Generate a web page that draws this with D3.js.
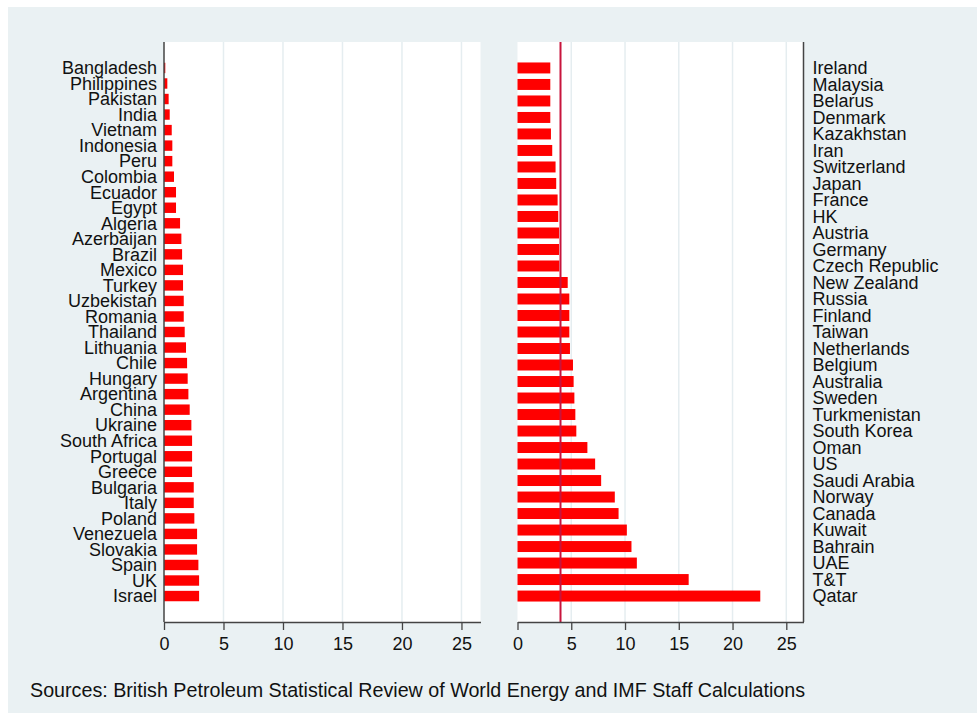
<!DOCTYPE html>
<html><head><meta charset="utf-8">
<script src="https://cdn.jsdelivr.net/npm/d3@7"></script>
<style>body{margin:0;background:#fff} svg{display:block}</style>
</head><body><svg id="c" width="977" height="713"></svg>
<script>
const leftCountries = ["Bangladesh","Philippines","Pakistan","India","Vietnam","Indonesia","Peru","Colombia","Ecuador","Egypt","Algeria","Azerbaijan","Brazil","Mexico","Turkey","Uzbekistan","Romania","Thailand","Lithuania","Chile","Hungary","Argentina","China","Ukraine","South Africa","Portugal","Greece","Bulgaria","Italy","Poland","Venezuela","Slovakia","Spain","UK","Israel"];
const leftValues = [0.11,0.28,0.39,0.48,0.65,0.70,0.70,0.84,1.01,1.01,1.35,1.46,1.52,1.60,1.60,1.66,1.66,1.74,1.85,1.94,1.99,2.05,2.16,2.30,2.36,2.36,2.36,2.50,2.50,2.55,2.78,2.78,2.89,2.95,2.95];
const rightCountries = ["Ireland","Malaysia","Belarus","Denmark","Kazakhstan","Iran","Switzerland","Japan","France","HK","Austria","Germany","Czech Republic","New Zealand","Russia","Finland","Taiwan","Netherlands","Belgium","Australia","Sweden","Turkmenistan","South Korea","Oman","US","Saudi Arabia","Norway","Canada","Kuwait","Bahrain","UAE","T&T","Qatar"];
const rightValues = [3.05,3.05,3.05,3.05,3.11,3.23,3.54,3.60,3.73,3.79,3.86,3.86,3.89,4.67,4.82,4.82,4.82,4.88,5.16,5.22,5.29,5.38,5.47,6.50,7.22,7.78,9.05,9.40,10.17,10.60,11.10,15.92,22.58];
const xTicks = [0,5,10,15,20,25];
const xMax = 26.6;
const refLine = 4;
const sourceNote = "Sources: British Petroleum Statistical Review of World Energy and IMF Staff Calculations";

const svg = d3.select("#c");
const FONT = "'Liberation Sans', Arial, sans-serif";
svg.append("rect").attr("x",8).attr("y",7).attr("width",969).attr("height",706).attr("fill","#eaf1f3");

const plotTop = 42, plotBottom = 622;

function panel(cats, vals, x0, x1, labelSide, withRef, pInner, pOuter) {
  const g = svg.append("g");
  const x = d3.scaleLinear().domain([0, xMax]).range([x0, x1]);
  const y = d3.scaleBand().domain(cats).range([plotTop, plotBottom]).paddingInner(pInner).paddingOuter(pOuter);
  g.append("rect").attr("x", x0).attr("y", plotTop).attr("width", x1 - x0).attr("height", plotBottom - plotTop).attr("fill", "#fff");
  g.selectAll("line.grid").data(xTicks.filter(t => t > 0)).join("line")
    .attr("class","grid").attr("x1", d => x(d)).attr("x2", d => x(d))
    .attr("y1", plotTop).attr("y2", plotBottom).attr("stroke", "#e5edf0").attr("stroke-width", 1.5);
  g.selectAll("rect.bar").data(cats).join("rect").attr("class","bar")
    .attr("x", x(0)).attr("y", d => y(d)).attr("height", y.bandwidth())
    .attr("width", (d, i) => x(vals[i]) - x(0)).attr("fill", "#ff0000");
  if (withRef) {
    g.append("line").attr("x1", x(refLine)).attr("x2", x(refLine)).attr("y1", plotTop).attr("y2", plotBottom)
      .attr("stroke", "#c8143c").attr("stroke-width", 2);
  }
  const ax = g.append("g").attr("transform", `translate(0,${plotBottom})`)
    .call(d3.axisBottom(x).tickValues(xTicks).tickSize(8).tickPadding(7).tickSizeOuter(0));
  ax.select(".domain").attr("stroke", "#444").attr("stroke-width", 1.3);
  ax.selectAll(".tick line").attr("stroke", "#444").attr("stroke-width", 1.3);
  ax.selectAll("text").attr("font-family", FONT).attr("font-size", 18).attr("fill", "#111");
  const axisX = labelSide === "left" ? x0 : x1;
  g.append("line").attr("x1", axisX).attr("x2", axisX).attr("y1", plotTop).attr("y2", plotBottom)
    .attr("stroke", "#444").attr("stroke-width", 1.5);
  g.selectAll("text.lab").data(cats).join("text").attr("class","lab")
    .attr("x", labelSide === "left" ? x0 - 7 : x1 + 9)
    .attr("y", d => y(d) + y.bandwidth() / 2)
    .attr("dy", "0.35em")
    .attr("text-anchor", labelSide === "left" ? "end" : "start")
    .attr("font-family", FONT).attr("font-size", 18).attr("fill", "#111")
    .text(d => d);
}

panel(leftCountries, leftValues, 164, 480.5, "left", false, 0.33, 1.336);
panel(rightCountries, rightValues, 517.5, 803.5, "right", true, 0.335, 1.24);

svg.append("text").attr("x", 30).attr("y", 697).attr("font-family", FONT).attr("font-size", 19.7)
  .attr("fill", "#111").text(sourceNote);
</script></body></html>
